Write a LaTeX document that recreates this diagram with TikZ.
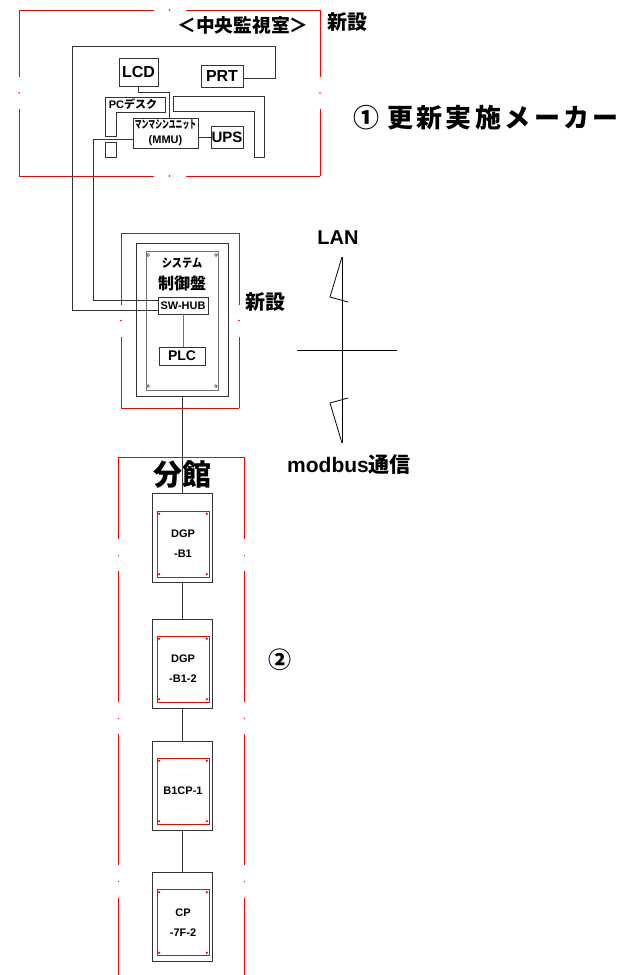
\documentclass[tikz,border=0pt]{standalone}
\usepackage{fontspec}
\setmainfont{Liberation Sans}
\newfontfamily\jp{Noto Sans CJK JP}
\usetikzlibrary{calc}

% red frame side with a dot in its middle
\newcommand{\redside}[2]{%
  \draw[frame] (#1) -- ($(#1)!0.5!(#2)!16pt!(#1)$);
  \draw[frame] (#2) -- ($(#2)!0.5!(#1)!16pt!(#2)$);
  \fill[red] ($(#1)!0.5!(#2)$) circle (0.8pt);}

\begin{document}
\begin{tikzpicture}[x=1pt, y=-1pt,
    lbl/.style={font=\bfseries\fontsize{#1}{#1}\selectfont, inner sep=0pt},
    box/.style={draw=black!80, line width=0.9pt, inner sep=0pt},
    wire/.style={black!80, line width=0.9pt},
    frame/.style={red, line width=1pt},
    panel/.style={draw=black!80, line width=1pt, minimum width=60pt, minimum height=89pt},
    inpanel/.style={draw=red, line width=1pt, minimum width=52pt, minimum height=66pt,
        align=center, font=\bfseries\fontsize{11}{20}\selectfont,
        path picture={\foreach \c in {north west,north east,south west,south east}
            \fill[red] ($(path picture bounding box.\c)!3.5pt!(path picture bounding box.center)$) circle (1.3pt);}},
    ctrlin/.style={draw=black!55, line width=0.9pt, minimum width=72pt, minimum height=139pt,
        path picture={\foreach \c in {north west,north east,south west,south east}
            \draw[black!70, line width=0.6pt] ($(path picture bounding box.\c)!4.5pt!(path picture bounding box.center)$) circle (1.4pt);}}]

    \fill[white] (0,0) rectangle (626,975);
    \useasboundingbox (0,0) rectangle (626,975);

    % central control room
    \coordinate (A1) at (19,10);
    \coordinate (A2) at (320,10);
    \coordinate (A3) at (320,176);
    \coordinate (A4) at (19,176);
    \redside{A1}{A2}
    \redside{A2}{A3}
    \redside{A4}{A3}
    \redside{A1}{A4}

    \node[lbl=18.7, font=\jp\bfseries\fontsize{18.7}{18.7}\selectfont] (room) at (243,25) {＜中央監視室＞};
    \node[lbl=20, anchor=west, font=\jp\bfseries\fontsize{20}{20}\selectfont] (new1) at (327,22) {新設};
    \node[lbl=26, anchor=west, font=\jp\bfseries\fontsize{26}{26}\selectfont] (maker) at (353,118)
        {①\hspace{8pt}\addfontfeature{LetterSpace=13}更新実施メーカー};

    \node[box, lbl=16, minimum width=39pt, minimum height=28pt] (lcd) at (138.5,72) {LCD};
    \node[box, lbl=16, minimum width=42pt, minimum height=22pt] (prt) at (222,76) {PRT};
    \node[box, minimum width=65pt, minimum height=30pt, align=center,
        font=\bfseries\fontsize{11}{15}\selectfont] (mmu) at (165.5,133)
        {{\jp\scalebox{0.62}[1]{マンマシンユニット}}\\(MMU)};
    \node[box, lbl=15, minimum width=32pt, minimum height=22pt] (ups) at (227,137) {UPS};

    \draw[wire] (105,97) -- (165,97) -- (165,112) -- (116,112) -- (116,136) -- (105,136) -- cycle;
    \draw[wire] (105,142) rectangle (116,157);
    \draw[wire] (173,96) -- (264,96) -- (264,157) -- (254,157) -- (254,111) -- (173,111) -- cycle;
    \node[lbl=11] (desk) at (133,104.5) {PC{\jp デスク}};

    % system control panel
    \draw[frame] (121,233) -- (239,233);
    \draw[frame] (121,408) -- (239,408);
    \coordinate (B1) at (121,233);
    \coordinate (B2) at (239,233);
    \coordinate (B3) at (239,408);
    \coordinate (B4) at (121,408);
    \redside{B1}{B4}
    \redside{B2}{B3}

    \node[box, line width=1pt, minimum width=92pt, minimum height=153pt] (ctrl) at (182,319.5) {};
    \node[ctrlin] (ctrlin) at (182,320.5) {};
    \node[lbl=12, font=\jp\bfseries\fontsize{12}{12}\selectfont] (sys) at (182,263) {\scalebox{0.85}[1]{システム}};
    \node[lbl=16, font=\jp\bfseries\fontsize{16}{16}\selectfont] (sysb) at (182,283) {制御盤};
    \node[box, lbl=11, minimum width=50pt, minimum height=17pt, fill=white] (swhub) at (183,305.5) {SW-HUB};
    \node[box, lbl=14, minimum width=46pt, minimum height=18pt] (plc) at (182,356) {PLC};
    \node[lbl=20, anchor=west, font=\jp\bfseries\fontsize{20}{20}\selectfont] (new2) at (245,302) {新設};

    \draw[wire] ([yshift=-2pt]prt.east) -- ++(32,0) |- (72,46) |- ([yshift=-4.5pt]swhub.west);
    \draw[wire] ([yshift=-6pt]mmu.west) -| (93,300) -- ([yshift=5.5pt]swhub.west);
    \draw[wire] (lcd.south) -- ++(0,6) -| ([xshift=3.5pt]mmu.north);
    \draw[wire] (ups.west) -- (ups.west -| mmu.east);
    \draw[wire, black!55] (swhub.south) -- (swhub.south |- plc.north);

    % LAN / modbus
    \node[lbl=20] (lan) at (338,238) {LAN};
    \node[lbl=21] (modbus) at (349,465) {modbus{\jp 通信}};
    \coordinate (L1) at (342,257);
    \coordinate (L2) at (342,443);
    \draw[line width=0.8pt] (L1) -- (L2);
    \draw[line width=0.8pt] (L1) -- (330,297) -- (348,302);
    \draw[line width=0.8pt] (348,398) -- (330,403) -- (L2);
    \draw[line width=0.8pt] (297,350) -- (397,350);

    % annex
    \draw[frame] (118,457) -- (244,457);
    \draw[frame, dash pattern=on 131pt off 15.5pt on 1.2pt off 15.5pt, dash phase=49pt] (118,457) -- (118,975);
    \draw[frame, dash pattern=on 131pt off 15.5pt on 1.2pt off 15.5pt, dash phase=49pt] (244,457) -- (244,975);
    \node[lbl=29, font=\jp\bfseries\fontsize{29}{29}\selectfont] (annex) at (182,475) {分館};
    \node[lbl=23, font=\jp\bfseries\fontsize{23}{23}\selectfont] (two) at (280,660) {②};

    \node[panel] (b1) at (182,538) {};
    \node[inpanel] (b1in) at (183,544) {DGP\\-B1};
    \node[panel] (b12) at (182,663.5) {};
    \node[inpanel] (b12in) at (183,669) {DGP\\-B1-2};
    \node[panel] (b1cp) at (182,786) {};
    \node[inpanel] (b1cpin) at (183,791) {B1CP-1};
    \node[panel] (cp) at (182,917) {};
    \node[inpanel] (cpin) at (183,922.5) {CP\\-7F-2};

    \draw[wire] (ctrl.south) -- (b1.north);
    \draw[wire] (b1.south) -- (b12.north);
    \draw[wire] (b12.south) -- (b1cp.north);
    \draw[wire] (b1cp.south) -- (cp.north);
\end{tikzpicture}
\end{document}
